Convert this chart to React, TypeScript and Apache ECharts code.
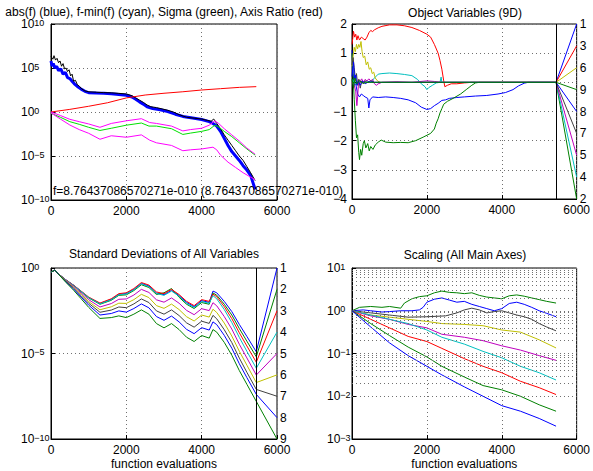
import React, { useEffect, useRef } from 'react';
import * as echarts from 'echarts';

const FONT = '"Liberation Sans", Arial, Helvetica, sans-serif';

// ---------- Panel 1: f, abs(f), sigma, axis ratio (values are log10) ----------
const fLog10: [number, number][] = [[0,6.3],[50,6.0],[80,6.4],[120,5.9],[160,6.1],[200,5.6],[240,5.8],[280,5.2],[320,5.5],[360,4.9],[400,5.0],[440,4.6],[480,4.8],[520,4.1],[560,4.3],[600,3.5],[650,3.6],[700,3.1],[760,2.9],[820,2.6],[900,2.4],[1000,2.3],[1200,2.25],[1400,2.2],[1600,2.18],[1800,2.12],[2000,2.05],[2150,1.85],[2250,1.6],[2350,1.35],[2450,1.1],[2550,0.8],[2650,0.6],[2800,0.5],[2950,0.35],[3100,0.2],[3250,0.0],[3400,-0.3],[3600,-0.6],[3800,-0.7],[4000,-0.8],[4150,-0.95],[4250,-1.05],[4320,-0.8],[4400,-1.3],[4500,-1.9],[4600,-2.6],[4700,-3.2],[4800,-3.8],[4900,-4.4],[5000,-5.0],[5100,-5.5],[5200,-6.2],[5300,-6.9],[5420,-7.8]];
const absFLog10: [number, number][] = [[0,5.8],[30,5.2],[60,5.5],[100,5.0],[150,5.2],[200,4.7],[260,4.9],[320,4.3],[380,4.5],[440,3.9],[500,3.8],[560,3.5],[620,3.2],[700,2.9],[800,2.6],[900,2.35],[1000,2.2],[1200,2.15],[1400,2.12],[1600,2.08],[1800,2.0],[2000,1.9],[2150,1.7],[2250,1.45],[2350,1.15],[2450,0.9],[2550,0.6],[2700,0.4],[2900,0.25],[3100,0.05],[3300,-0.25],[3500,-0.5],[3800,-0.7],[4000,-0.85],[4200,-1.1],[4300,-1.3],[4400,-1.6],[4500,-2.2],[4600,-3.0],[4700,-3.8],[4800,-4.5],[4900,-5.0],[5000,-5.5],[5100,-6.1],[5200,-6.6],[5300,-7.2],[5420,-8.8]];
const axisRatioLog10: [number, number][] = [[0,0],[500,0.3],[1000,0.65],[1500,1.05],[2000,1.6],[2500,1.93],[3000,2.13],[3500,2.3],[4000,2.5],[4500,2.65],[5000,2.8],[5450,2.88]];
const sigmaLog10: [number, number][] = [[0,-0.15],[250,-0.6],[500,-1.1],[750,-1.4],[1000,-1.74],[1300,-2.1],[1600,-1.85],[2000,-1.5],[2400,-1.25],[2600,-1.6],[2800,-1.6],[3200,-1.9],[3500,-2.55],[3700,-2.4],[4000,-2.2],[4200,-2.0],[4350,-1.5],[4450,-1.7],[4600,-2.2],[4800,-2.8],[5000,-3.5],[5200,-4.2],[5420,-4.9]];
const sdMaxLog10: [number, number][] = [[0,0],[250,-0.4],[500,-0.83],[750,-1.1],[1000,-1.36],[1300,-1.74],[1600,-1.3],[2000,-1.0],[2400,-0.76],[2620,-1.2],[2800,-1.3],[3200,-1.6],[3500,-2.15],[3700,-2.0],[4000,-1.85],[4200,-1.5],[4350,-1.0],[4450,-1.3],[4600,-1.9],[4800,-2.6],[5000,-3.3],[5200,-4.1],[5420,-4.8]];
const sdMinLog10: [number, number][] = [[0,-0.1],[250,-0.8],[500,-1.48],[750,-2.0],[1000,-2.42],[1300,-3.1],[1600,-2.7],[2000,-2.87],[2400,-2.6],[2620,-3.2],[2800,-3.5],[3200,-3.8],[3500,-4.4],[3700,-4.3],[4000,-4.2],[4300,-4.0],[4400,-4.3],[4500,-4.9],[4700,-5.7],[4900,-6.3],[5100,-6.9],[5420,-7.7]];
const fAnnotation = 'f=8.76437086570271e-010 (8.76437086570271e-010)';

// ---------- Panel 2: object variables ----------
const objVar1: [number, number][] = [[0,1.1],[30,0.3],[60,-0.1],[100,-0.05],[150,-0.4],[200,-0.5],[250,-0.4],[300,-0.45],[350,-0.5],[420,-0.55],[450,-0.88],[480,-0.6],[550,-0.5],[700,-0.52],[900,-0.5],[1100,-0.52],[1300,-0.55],[1500,-0.6],[1700,-0.7],[1850,-0.85],[2000,-0.93],[2100,-0.9],[2200,-0.8],[2300,-0.72],[2400,-0.62],[2500,-0.6],[2600,-0.55],[2800,-0.52],[3000,-0.5],[3300,-0.47],[3600,-0.45],[3900,-0.4],[4100,-0.35],[4300,-0.25],[4450,-0.12],[4600,-0.03],[4700,0],[5450,0]];
const objVar2: [number, number][] = [[0,1.0],[30,0.2],[60,-0.6],[90,-1.3],[120,-1.9],[150,-1.8],[180,-2.4],[200,-2.65],[230,-2.3],[260,-2.5],[300,-2.1],[330,-2.0],[370,-2.25],[420,-2.1],[460,-2.35],[500,-2.2],[560,-2.3],[620,-2.15],[700,-2.05],[780,-1.98],[900,-2.05],[1100,-2.07],[1300,-2.06],[1500,-2.07],[1700,-2.0],[1900,-1.88],[2100,-1.75],[2200,-1.6],[2250,-1.4],[2300,-1.25],[2350,-1.05],[2400,-0.9],[2450,-0.75],[2550,-0.65],[2700,-0.55],[2900,-0.4],[3050,-0.25],[3200,-0.1],[3300,-0.02],[3400,0],[5450,0]];
const objVar3: [number, number][] = [[0,1.3],[20,1.5],[40,1.75],[70,1.55],[100,1.65],[130,1.45],[160,1.6],[200,1.45],[250,1.55],[300,1.5],[350,1.45],[400,1.55],[450,1.7],[500,1.78],[550,1.74],[600,1.8],[700,1.87],[800,1.92],[1000,1.97],[1200,1.97],[1400,1.94],[1600,1.88],[1800,1.78],[2000,1.65],[2100,1.55],[2200,1.3],[2300,1.0],[2350,0.75],[2400,0.45],[2450,0.05],[2480,-0.15],[2550,-0.1],[2650,-0.05],[2800,-0.05],[3000,-0.02],[3200,0.0],[5450,0]];
const objVar4: [number, number][] = [[0,0.1],[100,-0.05],[200,0.05],[300,0],[400,0.05],[500,0],[600,0.15],[700,0.28],[800,0.3],[1000,0.32],[1200,0.3],[1400,0.27],[1600,0.23],[1750,0.1],[1850,-0.05],[1950,-0.15],[2000,-0.25],[2050,-0.18],[2150,-0.1],[2250,-0.02],[2350,0.0],[2380,0.18],[2400,0.0],[2500,0],[5450,0]];
const objVar5: [number, number][] = [[0,0],[60,-0.1],[100,-0.3],[130,-0.8],[150,-0.5],[180,0.1],[220,0.05],[260,0.12],[300,0.0],[350,0.1],[400,0.05],[450,0.12],[500,0.05],[550,0.1],[600,-0.05],[650,-0.1],[700,-0.05],[800,0],[1200,0.02],[1600,0.0],[2000,0.05],[2200,0.03],[2400,0],[5450,0]];
const objVar6: [number, number][] = [[0,0.55],[30,0.9],[60,1.2],[90,1.05],[120,1.3],[150,1.15],[180,1.3],[210,1.2],[240,1.4],[270,1.05],[300,0.85],[340,0.9],[380,0.6],[420,0.7],[460,0.45],[500,0.5],[540,0.3],[580,0.35],[620,0.15],[680,0.05],[750,0],[5450,0]];
const objVar7: [number, number][] = [[0,0.6],[30,0.85],[60,0.5],[90,0.1],[120,0.3],[150,-0.1],[180,0.1],[220,-0.2],[260,0.05],[300,-0.05],[350,0.05],[400,0],[500,0.05],[600,0],[5450,0]];
const objVar8: [number, number][] = [[0,0.2],[40,0.7],[70,0.1],[100,0.25],[130,-0.1],[170,0.05],[220,-0.1],[280,0.05],[350,-0.05],[450,0.02],[600,0],[5450,0]];
const objVar9: [number, number][] = [[0,0.1],[40,-0.2],[80,0.15],[120,-0.05],[200,0.05],[300,-0.03],[400,0],[5450,0]];
const objVars = [objVar1, objVar2, objVar3, objVar4, objVar5, objVar6, objVar7, objVar8, objVar9];
const objLabelY = [2, -4, 1.25, -3.25, -2.5, 0.5, -1.75, -1, -0.25];

// ---------- Panel 3: standard deviations (log10) ----------
const sdEvals = [0,100,200,400,600,800,1000,1300,1600,1800,2000,2200,2400,2600,2800,3000,3200,3400,3600,3800,4000,4200,4300,4400,4600,4800,5000,5200,5450];
const sdVar1 = [-0.25,-0.12,-0.35,-0.70,-1.01,-1.36,-1.72,-2.08,-1.83,-1.54,-1.49,-1.25,-0.90,-1.05,-1.46,-1.56,-1.31,-1.61,-2.01,-2.26,-1.91,-2.01,-1.35,-1.45,-1.95,-2.55,-3.3,-4.0,-4.9];
const sdVar2 = [-0.25,-0.12,-0.35,-0.71,-1.02,-1.39,-1.75,-2.12,-1.89,-1.60,-1.57,-1.32,-0.98,-1.14,-1.55,-1.45,-1.2,-1.71,-2.12,-2.37,-2.02,-2.12,-1.46,-1.59,-2.12,-2.75,-3.54,-4.28,-5.19];
const sdVar3 = [-0.25,-0.12,-0.35,-0.7,-1.0,-1.35,-1.7,-2.05,-1.8,-1.5,-1.45,-1.2,-0.85,-1.0,-1.4,-1.5,-1.25,-1.55,-1.95,-2.2,-1.85,-1.95,-1.53,-1.68,-2.26,-2.96,-3.79,-4.56,-5.51];
const sdVar4 = [-0.25,-0.12,-0.35,-0.71,-1.02,-1.37,-1.73,-2.10,-1.86,-1.57,-1.52,-1.28,-0.93,-1.09,-1.49,-1.6,-1.35,-1.65,-2.06,-2.31,-1.96,-2.06,-1.62,-1.80,-2.43,-3.19,-4.06,-4.87,-5.86];
const sdVar5 = [-0.25,-0.12,-0.36,-0.74,-1.08,-1.46,-1.85,-2.28,-2.08,-1.83,-1.81,-1.58,-1.25,-1.43,-1.86,-2.0,-1.75,-2.06,-2.48,-2.73,-2.38,-2.49,-2.03,-2.21,-2.84,-3.57,-4.46,-5.26,-6.26];
const sdVar6 = [-0.25,-0.12,-0.36,-0.76,-1.13,-1.54,-1.96,-2.44,-2.27,-2.06,-2.07,-1.85,-1.54,-1.73,-2.2,-2.36,-2.11,-2.43,-2.85,-3.1,-2.75,-2.87,-2.41,-2.6,-3.22,-3.98,-4.87,-5.68,-6.7];
const sdVar7 = [-0.25,-0.12,-0.36,-0.79,-1.18,-1.62,-2.06,-2.59,-2.46,-2.28,-2.32,-2.1,-1.81,-2.02,-2.51,-2.7,-2.45,-2.78,-3.21,-3.46,-3.11,-3.24,-2.77,-2.97,-3.61,-4.36,-5.27,-6.1,-7.1];
const sdVar8 = [-0.25,-0.12,-0.37,-0.82,-1.23,-1.7,-2.17,-2.75,-2.66,-2.51,-2.58,-2.37,-2.1,-2.33,-2.84,-3.06,-2.81,-3.15,-3.59,-3.84,-3.49,-3.63,-3.15,-3.31,-3.94,-4.69,-5.6,-6.41,-7.39];
const sdVar9 = [-0.25,-0.12,-0.37,-0.85,-1.3,-1.8,-2.3,-2.95,-2.9,-2.8,-2.9,-2.7,-2.45,-2.7,-3.25,-3.5,-3.25,-3.6,-4.05,-4.3,-3.95,-4.1,-3.6,-3.75,-4.35,-5.1,-6.0,-6.8,-7.8];
const sdVars = [sdVar1, sdVar2, sdVar3, sdVar4, sdVar5, sdVar6, sdVar7, sdVar8, sdVar9];
const sdLabelLog10 = [0, -1.25, -2.5, -3.75, -5, -6.25, -7.5, -8.75, -10];

// ---------- Panel 4: scaling of main axes (log10) ----------
const scTopGreen: [number, number][] = [[0,0],[200,0.08],[500,0.1],[800,0.08],[1000,0.1],[1300,0.06],[1400,0.18],[1600,0.28],[1800,0.33],[2000,0.35],[2200,0.42],[2400,0.46],[2600,0.43],[2800,0.42],[3000,0.4],[3200,0.42],[3400,0.36],[3600,0.32],[3800,0.3],[4000,0.28],[4200,0.35],[4400,0.37],[4600,0.34],[4800,0.3],[5000,0.26],[5200,0.22],[5450,0.18]];
const scUpperBlue: [number, number][] = [[0,0],[300,0.02],[500,0.0],[800,-0.03],[1000,-0.02],[1300,0.0],[1600,0.0],[1800,0.02],[1900,0.08],[2000,0.2],[2200,0.27],[2400,0.3],[2600,0.25],[2800,0.2],[3000,0.22],[3200,0.15],[3400,0.1],[3600,0.05],[3800,0.0],[4000,0.05],[4200,0.17],[4400,0.2],[4600,0.15],[4800,0.08],[5000,0.0],[5200,-0.06],[5450,-0.14]];
const scGray: [number, number][] = [[0,0],[500,-0.05],[1000,-0.1],[1500,-0.15],[2000,-0.14],[2500,-0.12],[2800,-0.05],[3000,0.02],[3200,0.06],[3400,0.02],[3600,-0.05],[3800,-0.02],[4000,0.0],[4200,-0.05],[4400,-0.1],[4600,-0.14],[4800,-0.2],[5000,-0.3],[5200,-0.38],[5450,-0.47]];
const scEvals = [0,500,1000,1500,2000,2400,3000,3500,4000,4500,5000,5450];
const scOlive = [0,-0.1,-0.15,-0.2,-0.25,-0.3,-0.32,-0.35,-0.45,-0.5,-0.68,-0.87];
const scMagenta = [0,-0.12,-0.2,-0.32,-0.4,-0.55,-0.62,-0.7,-0.82,-0.92,-1.05,-1.16];
const scCyan = [0,-0.1,-0.2,-0.3,-0.45,-0.62,-0.78,-0.95,-1.1,-1.3,-1.45,-1.62];
const scRed = [0,-0.2,-0.4,-0.6,-0.72,-0.88,-1.12,-1.3,-1.45,-1.65,-1.8,-1.96];
const scLowGreen = [0,-0.3,-0.58,-0.85,-1.08,-1.3,-1.55,-1.75,-1.85,-2.0,-2.2,-2.35];
const scLowBlue = [0,-0.38,-0.75,-1.05,-1.3,-1.5,-1.78,-2.0,-2.22,-2.35,-2.52,-2.7];
const scMinorGrid = [1e-3, 1e-2, 1e-1, 1].flatMap((d) => [2, 3, 4, 5, 6, 7, 8, 9].map((m) => m * d));

const lastEval = 5450;

// ---------- colours ----------
const BLUE = '#0000ff', GREEN = '#008000', RED = '#ff0000', CYAN = '#00bfbf', MAGENTA = '#bf00bf', OLIVE = '#bfbf00', GRAY = '#404040';
const varColors = [BLUE, GREEN, RED, CYAN, MAGENTA, OLIVE, GRAY, BLUE, GREEN];

const pow = (pairs: [number, number][]) => pairs.map(([x, e]) => [x, Math.pow(10, e)]);
const zipPow = (xs: number[], es: number[]) => xs.map((x, i) => [x, Math.pow(10, es[i])]);

const gridLine = { show: true, lineStyle: { color: '#707070', type: [1, 3] as any, width: 1 } };

function xAxis(gi: number, name?: string) {
  return {
    type: 'value', gridIndex: gi, min: 0, max: 6000, interval: 2000,
    axisLine: { show: true, onZero: false, lineStyle: { color: '#000', width: 1 } },
    axisTick: { show: true, inside: true, length: 4, lineStyle: { color: '#000' } },
    axisLabel: { fontSize: 12, color: '#000', margin: 5, fontFamily: FONT, formatter: (v: number) => String(v) },
    splitLine: gridLine,
    name: name || '', nameLocation: 'middle', nameGap: 19,
    nameTextStyle: { fontSize: 12, color: '#000', fontFamily: FONT },
  };
}

function logYAxis(gi: number, min: number, max: number, interval: number, margin: number) {
  return {
    type: 'log', logBase: 10, gridIndex: gi, min, max, interval,
    axisLine: { show: true, onZero: false, lineStyle: { color: '#000', width: 1 } },
    axisTick: { show: true, inside: true, length: 4, lineStyle: { color: '#000' } },
    axisLabel: {
      margin, align: 'left', color: '#000',
      formatter: (v: number) => {
        const e = Math.round(Math.log10(v));
        return `{b|10}{s|${e < 0 ? '\u2212' + (-e) : e}}`;
      },
      rich: {
        b: { fontSize: 12, fontFamily: FONT, color: '#000', lineHeight: 12, padding: [4, 0, 4, 0] },
        s: { fontSize: 9, fontFamily: FONT, color: '#000', lineHeight: 9, verticalAlign: 'top' },
      },
    },
    splitLine: gridLine,
  };
}

function line(xi: number, data: any[], color: string, extra: any = {}) {
  return {
    type: 'line', xAxisIndex: xi, yAxisIndex: xi, data, showSymbol: false, symbol: 'none',
    lineStyle: { color, width: 1 }, itemStyle: { color }, silent: true, z: 3, ...extra,
  };
}

const endLabel = (txt: string) => ({
  show: true, formatter: txt, distance: 3, color: '#000', fontSize: 12, fontFamily: FONT,
});

const vLine = {
  silent: true, symbol: ['none', 'none'], label: { show: false },
  lineStyle: { color: '#000', type: 'solid', width: 1 }, data: [{ xAxis: lastEval }],
};

export default function App() {
  const ref = useRef<HTMLDivElement>(null);
  useEffect(() => {
    if (!ref.current) return;
    const chart = echarts.init(ref.current, undefined, { renderer: 'svg' });
    const gridBase = { show: true, borderColor: '#000', borderWidth: 1, backgroundColor: '#fff', containLabel: false };
    const series: any[] = [];

    // panel 1
    series.push(line(0, pow(absFLog10), BLUE, { lineStyle: { color: BLUE, width: 3 } }));
    series.push(line(0, pow(fLog10), '#000'));
    series.push(line(0, pow(axisRatioLog10), RED));
    series.push(line(0, pow(sigmaLog10), '#00e000'));
    series.push(line(0, pow(sdMaxLog10), '#ff00ff'));
    series.push(line(0, pow(sdMinLog10), '#ff00ff'));

    // panel 2
    objVars.forEach((pairs, i) => {
      const s: any = line(1, [...pairs, [6000, objLabelY[i]]], varColors[i], { endLabel: endLabel(String(i + 1)) });
      if (i === 0) s.markLine = vLine;
      series.push(s);
    });

    // panel 3
    sdVars.forEach((es, i) => {
      const data = [...zipPow(sdEvals, es), [6000, Math.pow(10, sdLabelLog10[i])]];
      const s: any = line(2, data, varColors[i], { endLabel: endLabel(String(i + 1)) });
      if (i === 0) s.markLine = vLine;
      series.push(s);
    });

    // panel 4
    series.push({
      type: 'line', xAxisIndex: 3, yAxisIndex: 3, data: [], silent: true, z: 1,
      markLine: {
        silent: true, symbol: ['none', 'none'], label: { show: false },
        lineStyle: { color: '#707070', type: [1, 3], width: 1 },
        data: scMinorGrid.map((v) => ({ yAxis: v })),
      },
    });
    series.push(line(3, pow(scTopGreen), GREEN));
    series.push(line(3, pow(scUpperBlue), BLUE));
    series.push(line(3, pow(scGray), GRAY));
    series.push(line(3, zipPow(scEvals, scOlive), OLIVE));
    series.push(line(3, zipPow(scEvals, scMagenta), MAGENTA));
    series.push(line(3, zipPow(scEvals, scCyan), CYAN));
    series.push(line(3, zipPow(scEvals, scRed), RED));
    series.push(line(3, zipPow(scEvals, scLowGreen), GREEN));
    series.push(line(3, zipPow(scEvals, scLowBlue), BLUE));

    const txt = (text: string, x: number, y: number, align = 'center') => ({
      type: 'text', x, y, silent: true, z: 10,
      style: { text, align, verticalAlign: 'middle', fontSize: 12, fontFamily: FONT, fill: '#000' },
    });

    chart.setOption({
      animation: false,
      backgroundColor: '#fff',
      grid: [
        { ...gridBase, left: 51, top: 24, width: 226, height: 176 },
        { ...gridBase, left: 352, top: 24, width: 226, height: 175 },
        { ...gridBase, left: 51, top: 268, width: 226, height: 175 },
        { ...gridBase, left: 352, top: 268, width: 227, height: 174 },
      ],
      xAxis: [xAxis(0), xAxis(1), xAxis(2, 'function evaluations'), xAxis(3, 'function evaluations')],
      yAxis: [
        logYAxis(0, 1e-10, 1e10, 5, 30),
        {
          type: 'value', gridIndex: 1, min: -4, max: 2, interval: 1,
          axisLine: { show: true, onZero: false, lineStyle: { color: '#000', width: 1 } },
          axisTick: { show: true, inside: true, length: 4, lineStyle: { color: '#000' } },
          axisLabel: {
            fontSize: 12, color: '#000', margin: 5, fontFamily: FONT,
            formatter: (v: number) => String(v).replace('-', '\u2212'),
          },
          splitLine: gridLine,
        },
        logYAxis(2, 1e-10, 1, 5, 30),
        logYAxis(3, 1e-3, 10, 1, 25),
      ],
      graphic: [
        txt('abs(f) (blue), f-min(f) (cyan), Sigma (green), Axis Ratio (red)', 164, 12),
        txt('Object Variables (9D)', 465, 13),
        txt('Standard Deviations of All Variables', 164, 254),
        txt('Scaling (All Main Axes)', 465, 255),
        txt(fAnnotation, 53, 191, 'left'),
      ],
      series,
    });
    return () => chart.dispose();
  }, []);
  return <div ref={ref} style={{ position: 'fixed', left: 0, top: 0, width: 593, height: 471 }} />;
}
